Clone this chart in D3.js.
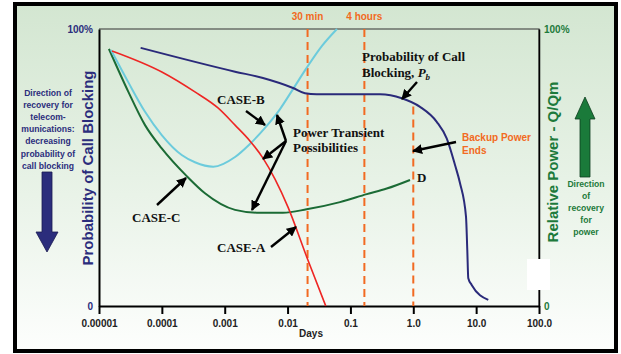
<!DOCTYPE html>
<html><head><meta charset="utf-8">
<script src="https://cdn.jsdelivr.net/npm/d3@7"></script>
<style>body{margin:0;background:#fff}svg{display:block}</style>
</head><body>
<svg id="c" width="621" height="354"></svg>
<script>
// ---- data ----
const xTickValues = [0.00001, 0.0001, 0.001, 0.01, 0.1, 1, 10, 100];
const xTickLabels = ["0.00001", "0.0001", "0.001", "0.01", "0.1", "1.0", "10.0", "100.0"];
const markerDays = [0.0208, 0.1667, 1.0];
const markerLabels = ["30 min", "4 hours", ""];
const markerTops = [100, 100, 72];
// Probability of call blocking, Pb (days, %)
const pbDays = [4.6e-5, 1.46e-3, 4.06e-3, 0.0122, 0.0189, 0.029, 0.205, 0.295, 0.655, 1.28, 2.36, 3.40, 4.61, 5.53, 6.90, 7.23, 7.50, 8.49, 15.6];
const pbVals = [93.2, 84.6, 82.3, 78.7, 76.8, 76.4, 76.4, 76.4, 75.0, 71.9, 66.5, 60.5, 50.9, 44.4, 32.2, 20.2, 10.0, 7.6, 2.2];
// CASE-A
const caseADays = [1.61e-5, 1.0e-4, 3.36e-4, 7.82e-4, 1.46e-3, 2.52e-3, 4.06e-3, 6.31e-3, 0.01016, 0.0201, 0.0405];
const caseAVals = [92.1, 84.5, 77.3, 71.5, 65.3, 59.6, 53.4, 45.8, 35.7, 17.8, 0];
// CASE-B
const caseBDays = [1.55e-5, 2.89e-5, 5.40e-5, 9.96e-5, 2.07e-4, 3.36e-4, 6.58e-4, 1.46e-3, 2.52e-3, 4.375e-3, 7.59e-3, 0.0122, 0.01963, 0.0353, 0.0611];
const caseBVals = [92.4, 81.0, 70.1, 61.7, 54.5, 51.9, 50.3, 53.8, 58.5, 64.3, 71.1, 78.3, 85.6, 93.9, 100];
// CASE-C
const caseCDays = [1.44e-5, 2.92e-5, 5.40e-5, 9.96e-5, 2.51e-4, 4.85e-4, 1.46e-3, 3.23e-3, 8.45e-3, 0.0201, 0.0682, 0.182, 0.378, 0.887];
const caseCVals = [92.8, 77.4, 65.3, 56.9, 46.8, 40.7, 34.7, 33.7, 33.7, 34.9, 37.5, 40.4, 42.4, 45.5];

// ---- layout ----
const svg = d3.select("#c");
const L = 99, R = 539, T = 29, B = 306;
const NAVY = "#2b2d7c", GREEN = "#1d7a3b", ORANGE = "#f26a22";
const SANS = "'Liberation Sans', Arial, sans-serif";
const SERIF = "'Liberation Serif', 'Times New Roman', serif";

const defs = svg.append("defs");
const grad = defs.append("linearGradient").attr("id", "bg").attr("x1", 0).attr("y1", 0).attr("x2", 0).attr("y2", 1);
grad.append("stop").attr("offset", "0%").attr("stop-color", "#d3e6d1");
grad.append("stop").attr("offset", "55%").attr("stop-color", "#e9f3e8");
grad.append("stop").attr("offset", "100%").attr("stop-color", "#fdfefd");
defs.append("marker").attr("id", "ah").attr("viewBox", "0 0 10 10").attr("refX", 9).attr("refY", 5)
  .attr("markerWidth", 4.2).attr("markerHeight", 4.2).attr("orient", "auto")
  .append("path").attr("d", "M0,0 L10,5 L0,10 z").attr("fill", "#000");

svg.append("rect").attr("x", 15).attr("y", 4).attr("width", 601).attr("height", 347)
  .attr("fill", "url(#bg)").attr("stroke", "#000").attr("stroke-width", 4);

const x = d3.scaleLog().domain([1e-5, 100]).range([L, R]);
const y = d3.scaleLinear().domain([0, 100]).range([B, T]);

// frame top/right
svg.append("path").attr("d", `M${L},${T}H${R}V${B}`).attr("fill", "none").attr("stroke", "#333").attr("stroke-width", 1.2);

// x axis
const xa = svg.append("g").attr("transform", `translate(0,${B})`)
  .call(d3.axisBottom(x).tickValues(xTickValues).tickFormat((d, i) => xTickLabels[i]).tickSize(8).tickSizeOuter(0));
xa.select(".domain").attr("stroke", "#000").attr("stroke-width", 2);
xa.selectAll(".tick line").attr("stroke", "#000").attr("stroke-width", 2);
xa.selectAll(".tick text").attr("font-family", SANS).attr("font-size", 10).attr("font-weight", "bold").attr("fill", "#222").attr("dy", "1.0em");
svg.append("text").attr("x", 311).attr("y", 337).attr("text-anchor", "middle").attr("font-family", SANS)
  .attr("font-size", 10).attr("font-weight", "bold").attr("fill", "#222").text("Days");

// left axis
const ya = svg.append("g").attr("transform", `translate(${L},0)`)
  .call(d3.axisLeft(y).tickValues([0, 100]).tickFormat(d => d === 0 ? "0" : "100%").tickSize(0).tickPadding(6));
ya.select(".domain").attr("stroke", "#000").attr("stroke-width", 2);
ya.selectAll(".tick text").attr("font-family", SANS).attr("font-size", 10).attr("font-weight", "bold").attr("fill", NAVY);
// right axis
const yr = svg.append("g").attr("transform", `translate(${R},0)`)
  .call(d3.axisRight(y).tickValues([0, 100]).tickFormat(d => d === 0 ? "0" : "100%").tickSize(0).tickPadding(5));
yr.select(".domain").attr("stroke", "#000").attr("stroke-width", 1.5);
yr.selectAll(".tick text").attr("font-family", SANS).attr("font-size", 10).attr("font-weight", "bold").attr("fill", GREEN);

// axis titles
svg.append("text").attr("transform", "translate(93,168) rotate(-90)").attr("text-anchor", "middle")
  .attr("font-family", SANS).attr("font-size", 15).attr("font-weight", "bold").attr("fill", NAVY)
  .text("Probability of Call Blocking");
svg.append("text").attr("transform", "translate(558,162) rotate(-90)").attr("text-anchor", "middle")
  .attr("font-family", SANS).attr("font-size", 15).attr("font-weight", "bold").attr("fill", GREEN)
  .text("Relative Power  -  Q/Qm");

// white patch over right axis
svg.append("rect").attr("x", 527).attr("y", 259).attr("width", 23).attr("height", 31).attr("fill", "#fff");

// marker lines
markerDays.forEach((d, i) => {
  svg.append("line").attr("x1", x(d)).attr("x2", x(d)).attr("y1", y(markerTops[i])).attr("y2", B)
    .attr("stroke", ORANGE).attr("stroke-width", 2).attr("stroke-dasharray", "8,5");
  if (markerLabels[i]) svg.append("text").attr("x", x(d)).attr("y", 20).attr("text-anchor", "middle")
    .attr("font-family", SANS).attr("font-size", 10).attr("font-weight", "bold").attr("fill", ORANGE).text(markerLabels[i]);
});

// curves
const line = (days, vals) => d3.line().x((d, i) => x(days[i])).y((d, i) => y(vals[i])).curve(d3.curveMonotoneX)(days);
svg.append("path").attr("d", line(caseCDays, caseCVals)).attr("fill", "none").attr("stroke", "#1b6b35").attr("stroke-width", 2);
svg.append("path").attr("d", line(caseBDays, caseBVals)).attr("fill", "none").attr("stroke", "#6ccbdc").attr("stroke-width", 2);
svg.append("path").attr("d", line(caseADays, caseAVals)).attr("fill", "none").attr("stroke", "#ee2624").attr("stroke-width", 1.6);
svg.append("path").attr("d", line(pbDays, pbVals)).attr("fill", "none").attr("stroke", "#2a2a7a").attr("stroke-width", 2);

// annotation arrows
const arrows = [
  [246, 111, 265, 125],   // CASE-B
  [286, 141, 277, 115],   // Power transient -> B
  [286, 141, 263, 159],   // -> A
  [286, 141, 252, 210],   // -> C
  [157, 205, 186, 178],   // CASE-C
  [271, 247, 296, 227],   // CASE-A
  [417, 82, 402, 99],     // Pb
  [456, 142, 413, 151]    // Backup power ends
];
arrows.forEach(a => svg.append("line").attr("x1", a[0]).attr("y1", a[1]).attr("x2", a[2]).attr("y2", a[3])
  .attr("stroke", "#000").attr("stroke-width", 2.4).attr("marker-end", "url(#ah)"));

// serif labels
const serif = (t, xx, yy) => svg.append("text").attr("x", xx).attr("y", yy).attr("font-family", SERIF)
  .attr("font-size", 13).attr("font-weight", "bold").attr("fill", "#111").text(t);
serif("CASE-B", 217, 104);
serif("Power Transient", 293, 137);
serif("Possibilities", 293, 152);
serif("CASE-C", 132, 222);
serif("CASE-A", 217, 252);
serif("Probability of Call", 362, 61);
const pb = serif("Blocking, ", 362, 77);
pb.append("tspan").attr("font-style", "italic").text("P");
pb.append("tspan").attr("font-style", "italic").attr("font-size", 9).attr("dy", 3).text("b");
serif("D", 417, 182);

// orange text
["Backup Power", "Ends"].forEach((t, i) => svg.append("text").attr("x", 462).attr("y", 141 + i * 13)
  .attr("font-family", SANS).attr("font-size", 10).attr("font-weight", "bold").attr("fill", ORANGE).text(t));

// left direction text + arrow
const leftTxt = ["Direction of", "recovery for", "telecom-", "munications:", "decreasing", "probability of", "call blocking"];
leftTxt.forEach((t, i) => svg.append("text").attr("x", 48).attr("y", 96 + i * 12.1).attr("text-anchor", "middle")
  .attr("font-family", SANS).attr("font-size", 8.6).attr("font-weight", "bold").attr("fill", NAVY).text(t));
svg.append("path").attr("d", "M42,172 H52 V232 H58 L47,252 L36,232 H42 Z").attr("fill", NAVY).attr("stroke", "#1a1a50").attr("stroke-width", 0.8);

// right direction text + arrow
const rightTxt = ["Direction", "of", "recovery", "for", "power"];
rightTxt.forEach((t, i) => svg.append("text").attr("x", 586).attr("y", 187 + i * 12).attr("text-anchor", "middle")
  .attr("font-family", SANS).attr("font-size", 8.6).attr("font-weight", "bold").attr("fill", GREEN).text(t));
svg.append("path").attr("d", "M580,177 V119 H575 L585,97 L595,119 H590 V177 Z").attr("fill", "#1a7a3a").attr("stroke", "#0e3d1e").attr("stroke-width", 0.8);
</script>
</body></html>
